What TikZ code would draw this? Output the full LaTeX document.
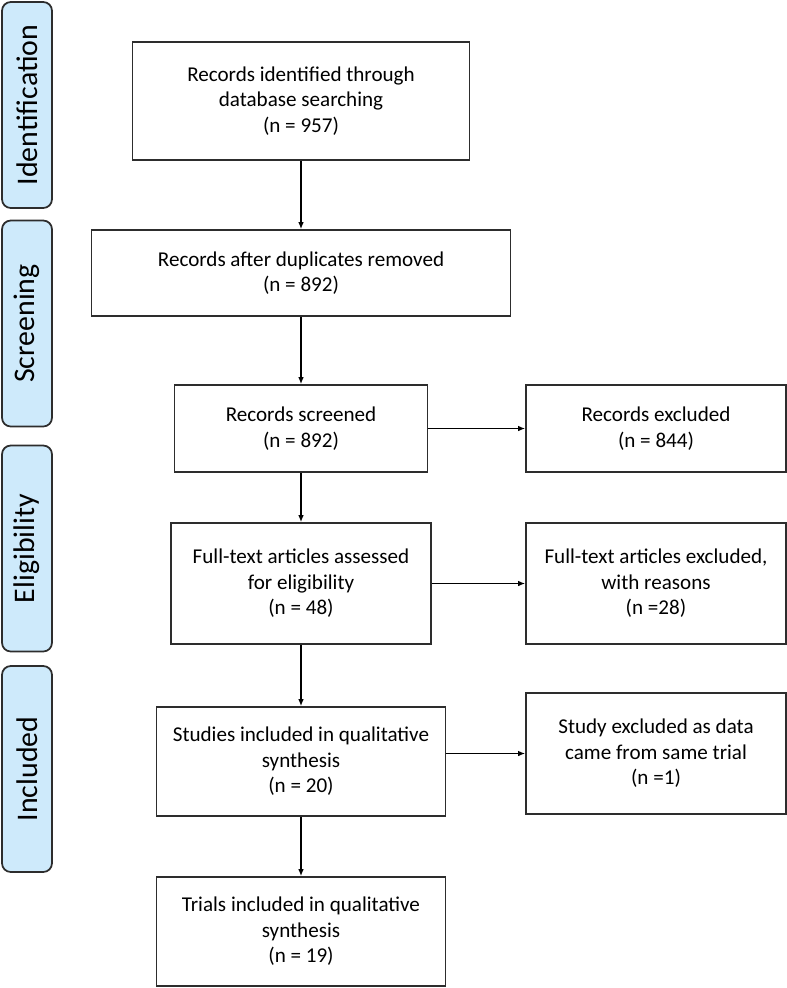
\documentclass[tikz,border=0pt]{standalone}
\usepackage{fontspec}
\setmainfont{Carlito}
\usetikzlibrary{arrows.meta}
\definecolor{stagefill}{RGB}{206,234,251}
\definecolor{edgegray}{RGB}{45,45,45}
\begin{document}
\begin{tikzpicture}[
  box/.style={draw=edgegray, line width=1pt, align=center, inner sep=2pt,
    font=\fontsize{12}{14.5}\selectfont},
  stage/.style={draw=edgegray, line width=1pt, fill=stagefill, rounded corners=5pt,
    rotate=90, minimum width=4.12cm, minimum height=1.0cm, inner sep=0pt,
    font=\fontsize{17}{20}\selectfont},
  arr/.style={-{Latex[length=4pt,width=3.2pt]}, line width=0.7pt, draw=black}]
\useasboundingbox (0,0) rectangle (15.74,-19.76);
\node (s1) at (0.54, -2.10) [stage] {Identification};
\node (s2) at (0.54, -6.47) [stage] {Screening};
\node (s3) at (0.54, -10.97) [stage] {Eligibility};
\node (s4) at (0.54, -15.38) [stage] {Included};
\node (rid) at (6.02, -2.02) [box, minimum width=6.74cm, minimum height=2.36cm] {Records identified through\\database searching\\(n = 957)};
\node (dup) at (6.02, -5.46) [box, minimum width=8.38cm, minimum height=1.72cm] {Records after duplicates removed\\(n = 892)};
\node (scr) at (6.02, -8.57) [box, minimum width=5.06cm, minimum height=1.74cm] {Records screened\\(n = 892)};
\node (ex1) at (13.12, -8.57) [box, minimum width=5.20cm, minimum height=1.74cm] {Records excluded\\(n = 844)};
\node (ful) at (6.02, -11.67) [box, minimum width=5.20cm, minimum height=2.42cm] {Full-text articles assessed\\for eligibility\\(n = 48)};
\node (ex2) at (13.12, -11.67) [box, minimum width=5.20cm, minimum height=2.42cm] {Full-text articles excluded,\\with reasons\\(n =28)};
\node (stu) at (6.02, -15.23) [box, minimum width=5.78cm, minimum height=2.18cm] {Studies included in qualitative\\synthesis\\(n = 20)};
\node (ex3) at (13.12, -15.07) [box, minimum width=5.20cm, minimum height=2.42cm] {Study excluded as data\\came from same trial\\(n =1)};
\node (tri) at (6.02, -18.63) [box, minimum width=5.78cm, minimum height=2.18cm] {Trials included in qualitative\\synthesis\\(n = 19)};
\draw[arr] (rid) -- (dup);
\draw[arr] (dup) -- (scr);
\draw[arr] (scr) -- (ful);
\draw[arr] (ful) -- (stu);
\draw[arr] (stu) -- (tri);
\draw[arr] (scr) -- (ex1);
\draw[arr] (ful) -- (ex2);
\draw[arr] (stu.east |- ex3.west) -- (ex3.west);
\end{tikzpicture}
\end{document}
